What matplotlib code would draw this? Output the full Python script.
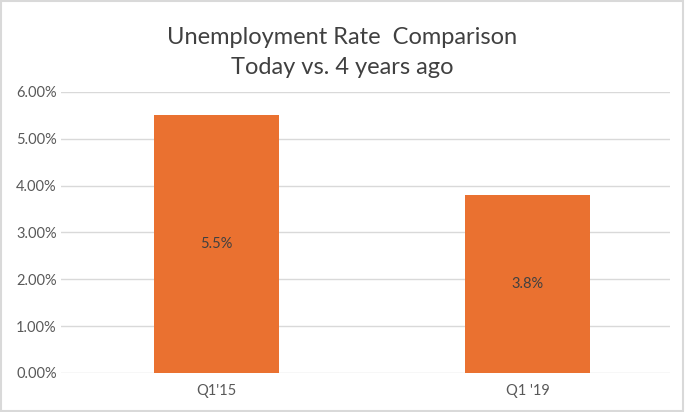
import matplotlib.pyplot as plt
from matplotlib.ticker import FuncFormatter
from matplotlib.patches import Rectangle

# 数据
categories = ["Q1'15", "Q1 '19"]
rates = [5.5, 3.8]
labels = ["5.5%", "3.8%"]
y_ticks = [0, 1, 2, 3, 4, 5, 6]

plt.rcParams['font.family'] = ['Lato', 'DejaVu Sans']

fig = plt.figure(figsize=(6.85, 4.12), dpi=100)
ax = fig.add_axes([0.089, 0.0947, 0.889, 0.682])

x = list(range(len(categories)))
ax.bar(x, rates, width=0.40, color='#EA7130', zorder=3)

# 柱内标签
for xi, v, t in zip(x, rates, labels):
    ax.text(xi, v / 2, t, ha='center', va='center', fontsize=10.5, color='#404040')

ax.set_xlim(-0.5, 1.457)
ax.set_ylim(0, 6)
ax.set_yticks(y_ticks)
ax.yaxis.set_major_formatter(FuncFormatter(lambda v, p: "%.2f%%" % v))
ax.set_xticks(x)
ax.set_xticklabels(categories)
ax.tick_params(axis='both', length=0, labelsize=10.5, labelcolor='#595959')
ax.tick_params(axis='x', pad=8)
ax.tick_params(axis='y', pad=3)
ax.grid(axis='y', color='#d9d9d9', linewidth=1, zorder=0)
for s in ax.spines.values():
    s.set_visible(False)

fig.text(0.5, 0.91, "Unemployment Rate  Comparison", ha='center', va='center',
         fontsize=17, color='#404040')
fig.text(0.5, 0.835, "Today vs. 4 years ago", ha='center', va='center',
         fontsize=17, color='#404040')

# 外框
fig.patches.append(Rectangle((0.002, 0.003), 0.995, 0.994, transform=fig.transFigure,
                             fill=False, edgecolor='#d9d9d9', linewidth=1.5))

plt.savefig("out.png", dpi=100)
